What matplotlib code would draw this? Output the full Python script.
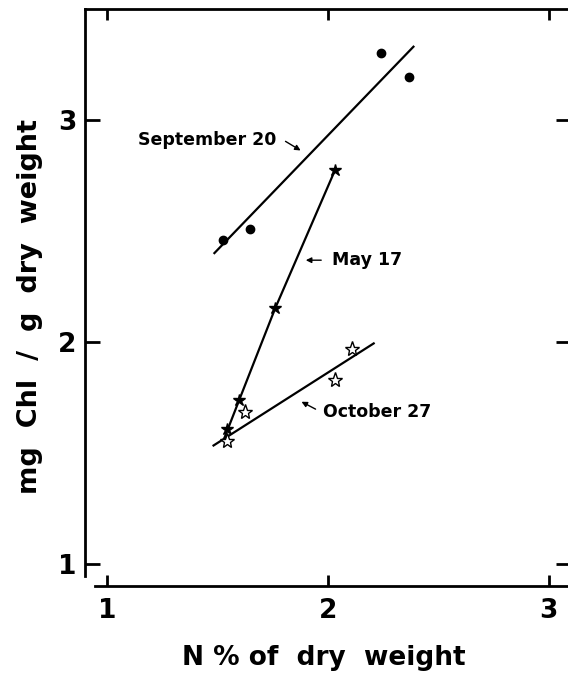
import numpy as np
import matplotlib
matplotlib.use("Agg")
import matplotlib.pyplot as plt

# dane (N % suchej masy, mg Chl / g suchej masy)
sep_x = [1.527, 1.649, 2.239, 2.365]
sep_y = [2.458, 2.508, 3.302, 3.194]
sep_line_x = [1.486, 2.387]
sep_line_y = [2.400, 3.330]

may_x = [1.541, 1.599, 1.761, 2.032]
may_y = [1.609, 1.740, 2.151, 2.774]
may_line_x = [1.532, 1.599, 1.761, 2.032]
may_line_y = [1.569, 1.740, 2.151, 2.774]

oct_x = [1.545, 1.626, 2.032, 2.108]
oct_y = [1.555, 1.682, 1.826, 1.966]
oct_line_x = [1.482, 2.207]
oct_line_y = [1.533, 1.993]

x_ticks = [1, 2, 3]
y_ticks = [1, 2, 3]

plt.rcParams['font.family'] = ['DejaVu Sans']
plt.rcParams['font.weight'] = 'bold'

fig = plt.figure(figsize=(5.68, 6.75), dpi=100)
ax = fig.add_axes([0.1496, 0.1319, 0.8556, 0.8548])

# wrzesien - kolka
ax.plot(sep_line_x, sep_line_y, color='k', lw=1.6)
ax.plot(sep_x, sep_y, 'o', color='k', ms=6)

# maj - pelne gwiazdki
ax.plot(may_line_x, may_line_y, color='k', lw=1.6)
ax.plot(may_x, may_y, '*', color='k', ms=9)

# pazdziernik - puste gwiazdki
ax.plot(oct_line_x, oct_line_y, color='k', lw=1.6)
ax.plot(oct_x, oct_y, '*', mfc='white', mec='k', mew=1.0, ms=11)

ax.set_xlim(0.9, 3.1)
ax.set_ylim(0.9, 3.5)
ax.set_xticks(x_ticks)
ax.set_yticks(y_ticks)
ax.tick_params(axis='both', direction='in', width=2, labelsize=19,
               top=True, right=True)
ax.tick_params(axis='y', length=11, pad=6)
ax.tick_params(axis='x', length=8, pad=9)

for s in ax.spines.values():
    s.set_linewidth(2)
ax.spines['left'].set_bounds(0.946, 3.5)
ax.spines['bottom'].set_bounds(0.946, 3.1)

ax.set_xlabel('N % of  dry  weight', fontsize=19, fontweight='bold')
ax.set_ylabel('mg  Chl  /  g  dry  weight', fontsize=19.5, fontweight='bold')
ax.xaxis.set_label_coords(0.492, -0.102)
ax.yaxis.set_label_coords(-0.0864, 0.4835)

arrow = dict(arrowstyle='-|>', color='k', lw=1, mutation_scale=8)
ax.annotate('', xy=(1.887, 2.856), xytext=(1.797, 2.910), arrowprops=arrow)
ax.text(1.455, 2.910, 'September 20', fontsize=12.5, fontweight='bold',
        ha='center', va='center')
ax.annotate('', xy=(1.887, 2.368), xytext=(1.982, 2.368), arrowprops=arrow)
ax.text(2.018, 2.368, 'May 17', fontsize=12.5, fontweight='bold',
        ha='left', va='center')
ax.annotate('', xy=(1.869, 1.736), xytext=(1.955, 1.691), arrowprops=arrow)
ax.text(1.977, 1.682, 'October 27', fontsize=12.5, fontweight='bold',
        ha='left', va='center')

fig.savefig('out.png', dpi=100)
